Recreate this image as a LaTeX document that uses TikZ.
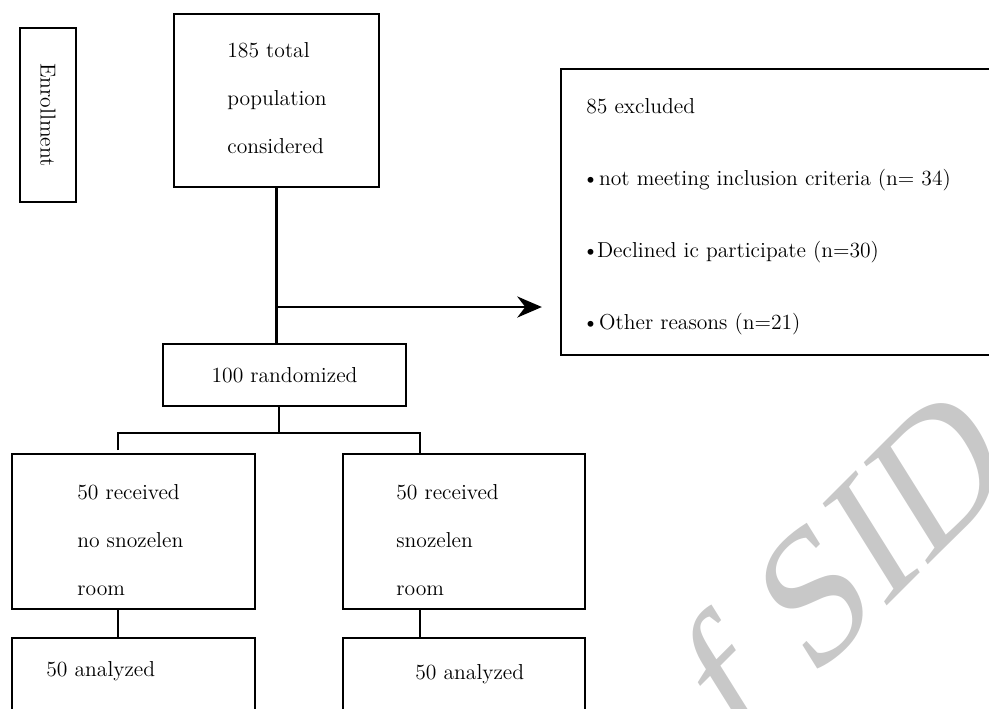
\documentclass[tikz,border=0pt]{standalone}
\usepackage{fontspec}
\usepackage{tikz}
\usetikzlibrary{arrows.meta,positioning,calc}
\newfontfamily\markfont{Liberation Serif}
\definecolor{markgray}{RGB}{200,200,200}

\begin{document}
\begin{tikzpicture}[
    font=\fontsize{12.3}{14}\selectfont,
    box/.style={draw, line width=1.3pt, inner sep=0pt},
    link/.style={line width=1.3pt},
    arr/.style={link, -{Stealth[length=14pt,width=12pt]}},
    txt/.style={align=left, inner sep=0pt, anchor=north west}
  ]
    \useasboundingbox (0,0) rectangle (19.78,-14.16);
    \clip (0,0) rectangle (19.78,-14.16);
    % watermark
    \node[markgray, rotate=45, xslant=0.23, anchor=base west, inner sep=0pt,
      font=\markfont\fontsize{102}{102}\selectfont] (mark) at (14.75,-15.11) {f SID};
    % boxes
    \node[box, rotate=-90, minimum width=3.48cm, minimum height=1.12cm] (enrol) at (0.96,-2.30) {Enrollment};
    \node[box, minimum width=4.10cm, minimum height=3.46cm] (total) at (5.53,-2.01) {};
    \node[box, minimum width=8.78cm, minimum height=5.72cm] (excl) at (15.61,-4.24) {};
    \node[box, minimum width=4.86cm, minimum height=1.24cm] (rand) at (5.69,-7.50) {100 randomized};
    \node[box, minimum width=4.86cm, minimum height=3.10cm] (noroom) at (2.67,-10.63) {};
    \node[box, minimum width=4.84cm, minimum height=3.10cm] (room) at (9.28,-10.63) {};
    \node[box, anchor=north, minimum width=4.86cm, minimum height=2.2cm] (anno) at (2.67,-12.74) {};
    \node[box, anchor=north, minimum width=4.84cm, minimum height=2.2cm] (anroom) at (9.28,-12.74) {};
    % texts
    \node[txt, font=\fontsize{12.3}{27.3}\selectfont] (totaltxt) at (4.54,-0.84) {185 total\\population\\considered};
    \node[txt, font=\fontsize{12.3}{41}\selectfont] (excltxt) at (11.72,-1.96)
      {85 excluded\\
       \kern-2.3pt\textbullet\kern0.2pt not meeting inclusion criteria (n= 34)\\
       \kern-2.3pt\textbullet\kern-1pt Declined ic participate (n=30)\\
       \kern-2.3pt\textbullet\kern0.2pt Other reasons (n=21)};
    \node[txt, font=\fontsize{12.3}{27.3}\selectfont] (noroomtxt) at (1.54,-9.68) {50 received\\no snozelen\\room};
    \node[txt, font=\fontsize{12.3}{27.3}\selectfont] (roomtxt) at (7.92,-9.68) {50 received\\snozelen\\room};
    \node[txt, anchor=base west] (annotxt) at (0.92,-13.52) {50 analyzed};
    \node[txt, anchor=base west] (anroomtxt) at (8.30,-13.58) {50 analyzed};
    % connectors
    \coordinate (split) at (total.south |- 0,-6.14);
    \coordinate (fork) at (5.58,-8.66);
    \coordinate (lft) at (2.36,-8.66);
    \coordinate (rgt) at (8.40,-8.66);
    \coordinate (lftend) at (2.36,-9.00);
    \draw[link] (total.south) -- (total.south |- rand.north);
    \draw[arr, shorten >=0.36cm] (split) -- (split -| excl.west);
    \draw[link] (fork |- rand.south) -- (fork);
    \draw[link] (lftend) |- (fork) -| (room.north -| rgt);
    \draw[link] (noroom.south -| lft) -- (anno.north -| lft);
    \draw[link] (room.south -| rgt) -- (anroom.north -| rgt);
\end{tikzpicture}
\end{document}
